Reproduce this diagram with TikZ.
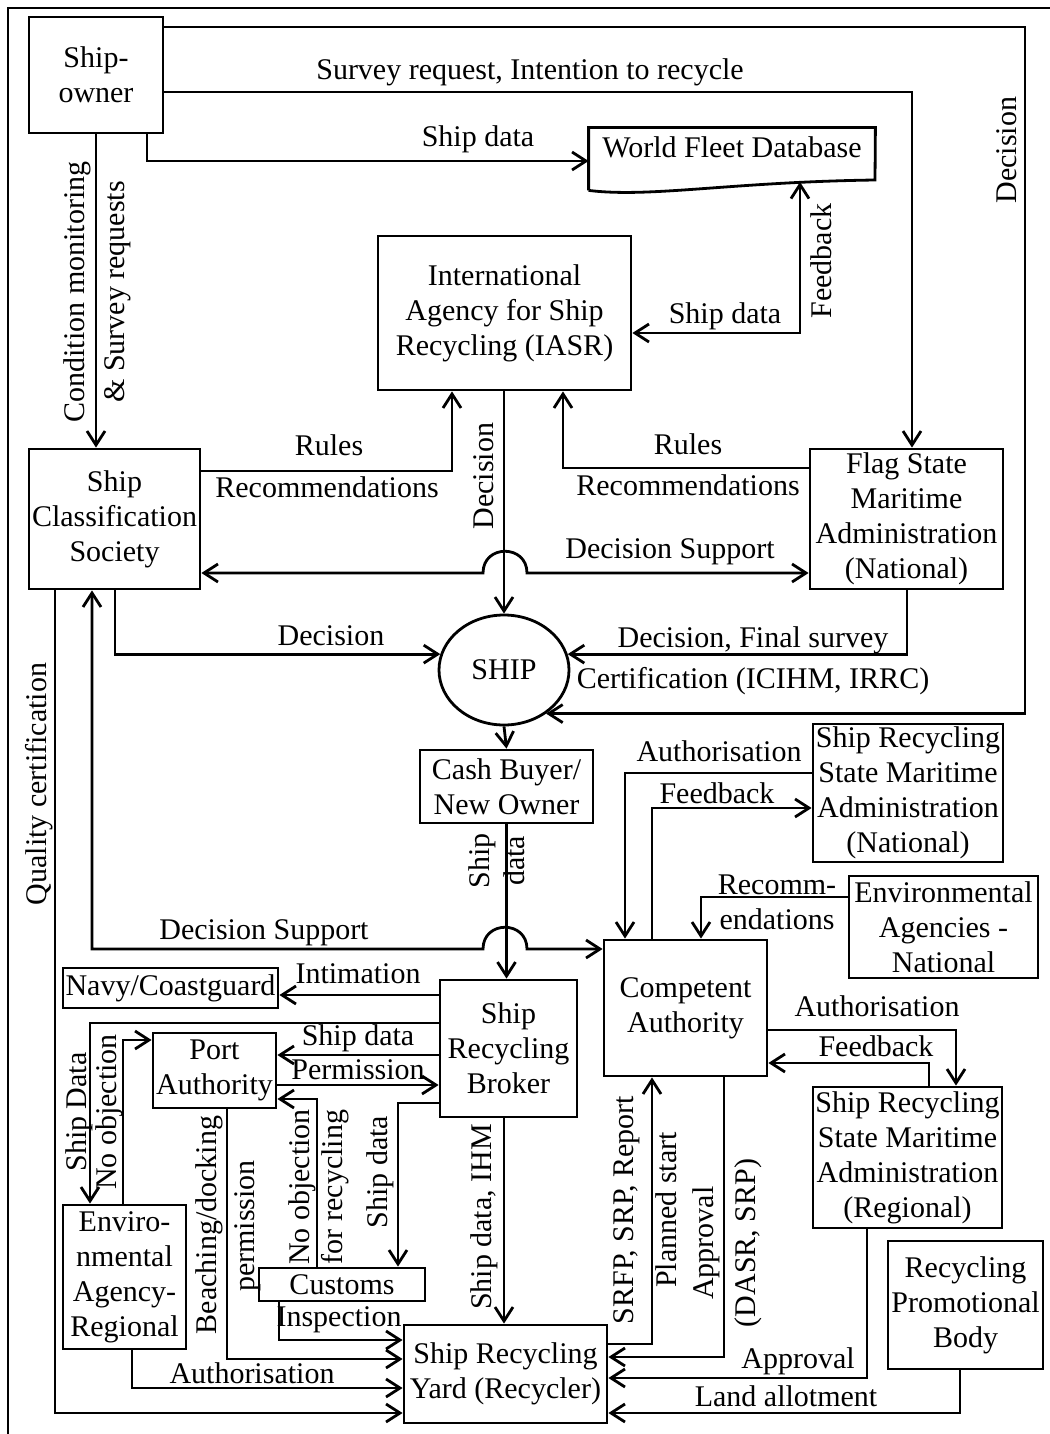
\documentclass[tikz,border=0pt]{standalone}
\usepackage{fontspec}
\setmainfont{Liberation Serif}
\usetikzlibrary{arrows.meta,shapes.geometric}

% a framed box given by its name, two corners and its text
\newcommand\mkbox[6]{%
  \node[bx, minimum width={(#4-#2)*0.5pt}, minimum height={(#5-#3)*0.5pt}]
    (#1) at ({(#2+#4)/2},{(#3+#5)/2}) {#6};}

\begin{document}
\begin{tikzpicture}[x=0.5pt, y=-0.5pt,
  txt/.style={font=\fontsize{15}{17.5}\selectfont},
  bx/.style={txt, draw, line width=1.4pt, inner sep=0pt, align=center},
  lbl/.style={txt, inner sep=0pt, align=center, text height=0.75em, text depth=0.1em},
  lblm/.style={txt, inner sep=0pt, align=center},
  lblr/.style={lbl, rotate=90},
  tip/.tip={Straight Barb[length=7pt,width=9pt]},
  arr/.style={line width=1.4pt, -tip},
  arr2/.style={line width=1.4pt, tip-tip}]

\useasboundingbox (0,0) rectangle (1049,1434);

% outer frame
\draw[line width=1.4pt] (8,1440) -- (8,8) -- (1055,8);

% ---------- actors ----------
\mkbox{own}{29}{17}{163}{133}{Ship-\\owner}
\node[inner sep=0pt, minimum width=143pt, minimum height=31pt] (wfdb) at (732,159) {};
\node[lbl] at (732,151) {World Fleet Database};
\draw[line width=1.4pt] (wfdb.south west) -- (wfdb.north west) -- (wfdb.north east)
  -- (875,180) .. controls (730,182) and (650,198) .. (wfdb.south west);
\coordinate (wave) at (800,182);

\mkbox{iasr}{378}{236}{631}{390}{International\\Agency for Ship\\Recycling (IASR)}
\mkbox{cls}{29}{449}{200}{589}{Ship\\Classification\\Society}
\mkbox{flag}{810}{449}{1003}{589}{Flag State\\Maritime\\Administration\\(National)}
\node[txt, draw, ellipse, line width=1.4pt, minimum width=65pt, minimum height=55pt, inner sep=0pt] (ship) at (504,670) {SHIP};
\mkbox{cash}{420}{750}{593}{823}{Cash Buyer/\\New Owner}
\mkbox{srn}{813}{724}{1003}{862}{Ship Recycling\\State Maritime\\Administration\\(National)}
\mkbox{ean}{849}{876}{1038}{978}{Environmental\\Agencies -\\National}
\mkbox{ca}{604}{940}{767}{1076}{Competent\\Authority}
\mkbox{navy}{63}{968}{278}{1008}{Navy/Coastguard}
\mkbox{brk}{440}{980}{577}{1117}{Ship\\Recycling\\Broker}
\mkbox{port}{153}{1033}{276}{1108}{Port\\Authority}
\mkbox{envr}{63}{1205}{186}{1349}{Enviro-\\nmental\\Agency-\\Regional}
\mkbox{cust}{259}{1268}{425}{1301}{Customs}
\mkbox{yard}{404}{1325}{607}{1423}{Ship Recycling\\Yard (Recycler)}
\mkbox{srr}{813}{1087}{1002}{1228}{Ship Recycling\\State Maritime\\Administration\\(Regional)}
\mkbox{promo}{888}{1241}{1043}{1369}{Recycling\\Promotional\\Body}

% ---------- flows from the shipowner ----------
\draw[arr] (own.east |- 0,27) -- (1025,27) -- (1025,0 |- ship.-46) -- (ship.-46);
\node[lblr] at (1010,150) {Decision};
\draw[arr] (own.east |- 0,92) -| (912,0 |- flag.north);
\node[lbl] at (530,73) {Survey request, Intention to recycle};
\draw[arr] (147,0 |- own.south) |- (wfdb.west |- 0,161);
\node[lbl] at (478,140) {Ship data};
\draw[arr] (96,0 |- own.south) -- (96,0 |- cls.north);
\node[lblr] at (78,292) {Condition monitoring};
\node[lblr] at (118,292) {\& Survey requests};

% ---------- IASR and the database ----------
\draw[arr2] (iasr.east |- 0,333) -| (wave);
\node[lbl] at (725,317) {Ship data};
\node[lblr] at (825,261) {Feedback};
\draw[arr] (cls.east |- 0,471) -| (452,0 |- iasr.south);
\node[lbl] at (329,449) {Rules};
\node[lbl] at (327,491) {Recommendations};
\draw[arr] (flag.west |- 0,468) -| (563,0 |- iasr.south);
\node[lbl] at (688,448) {Rules};
\node[lbl] at (688,489) {Recommendations};
\draw[arr] (iasr.south -| ship.north) -- (ship.north);
\node[lblr] at (487,476) {Decision};
\draw[arr2] (cls.east |- 0,573) -- (483,573) .. controls (483,544) and (527,544) .. (527,573) -- (flag.west |- 0,573);
\node[lbl] at (670,552) {Decision Support};

% ---------- decisions on the ship ----------
\draw[arr] (115,0 |- cls.south) |- (ship.166);
\node[lbl] at (331,639) {Decision};
\draw[arr] (907,0 |- flag.south) |- (ship.14);
\node[lbl] at (753,641) {Decision, Final survey};
\node[lbl] at (753,682) {Certification (ICIHM, IRRC)};
\draw[arr] (ship.south) -- (cash.north);
\draw[arr] (cash.south) -- (brk.north -| cash.south);
\node[lblr] at (483,861) {Ship};
\node[lblr] at (518,861) {data};
\draw[arr2] (92,0 |- cls.south) |- (483,949) .. controls (483,920) and (527,920) .. (527,949) -- (ca.west |- 0,949);
\node[lbl] at (264,933) {Decision Support};
\draw[arr] (55,0 |- cls.south) |- (yard.west |- 0,1413);
\node[lblr] at (40,784) {Quality certification};

% ---------- competent authority ----------
\draw[arr] (srn.west |- 0,773) -| (625,0 |- ca.north);
\node[lbl] at (719,755) {Authorisation};
\draw[arr] (652,0 |- ca.north) |- (srn.west |- 0,808);
\node[lbl] at (717,797) {Feedback};
\draw[arr] (ean.west |- 0,897) -| (701,0 |- ca.north);
\node[lblm] at (777,902) {Recomm-\\endations};
\draw[arr] (ca.east |- 0,1030) -| (956,0 |- srr.north);
\node[lbl] at (877,1010) {Authorisation};
\draw[arr] (929,0 |- srr.north) |- (ca.east |- 0,1063);
\node[lbl] at (876,1050) {Feedback};

% ---------- broker ----------
\draw[arr] (brk.west |- 0,995) -- (navy.east |- 0,995);
\node[lbl] at (358,977) {Intimation};
\draw[arr] (brk.west |- 0,1023) -| (90,0 |- envr.north);
\node[lblr] at (80,1112) {Ship Data};
\draw[arr] (123,0 |- envr.north) |- (port.west |- 0,1040);
\node[lblr] at (110,1112) {No objection};
\draw[arr] (brk.west |- 0,1055) -- (port.east |- 0,1055);
\node[lbl] at (358,1039) {Ship data};
\draw[arr] (port.east |- 0,1085) -- (brk.west |- 0,1085);
\node[lbl] at (358,1073) {Permission};
\draw[arr] (317,0 |- cust.north) |- (port.east |- 0,1099);
\node[lblr] at (303,1187) {No objection};
\node[lblr] at (336,1187) {for recycling};
\draw[arr] (brk.west |- 0,1103) -| (398,0 |- cust.north);
\node[lblr] at (381,1172) {Ship data};

% ---------- into the recycling yard ----------
\draw[arr] (227,0 |- port.south) |- (yard.west |- 0,1359);
\node[lblr] at (210,1225) {Beaching/docking};
\node[lblr] at (248,1226) {permission};
\draw[arr] (279,0 |- cust.south) |- (yard.west |- 0,1340);
\node[lbl] at (339,1320) {Inspection};
\draw[arr] (132,0 |- envr.south) |- (yard.west |- 0,1388);
\node[lbl] at (252,1377) {Authorisation};
\draw[arr] (brk.south -| 504,0) -- (yard.north -| 504,0);
\node[lblr] at (485,1217) {Ship data, IHM};
\draw[arr] (yard.east |- 0,1344) -| (652,0 |- ca.south);
\node[lblr] at (627,1210) {SRFP, SRP, Report};
\node[lblr] at (670,1210) {Planned start};
\draw[arr] (724,0 |- ca.south) |- (yard.east |- 0,1357);
\node[lblr] at (707,1243) {Approval};
\node[lblr] at (749,1243) {(DASR, SRP)};
\draw[arr] (867,0 |- srr.south) |- (yard.east |- 0,1378);
\node[lbl] at (798,1362) {Approval};
\draw[arr] (960,0 |- promo.south) |- (yard.east |- 0,1413);
\node[lbl] at (786,1400) {Land allotment};

\end{tikzpicture}
\end{document}
